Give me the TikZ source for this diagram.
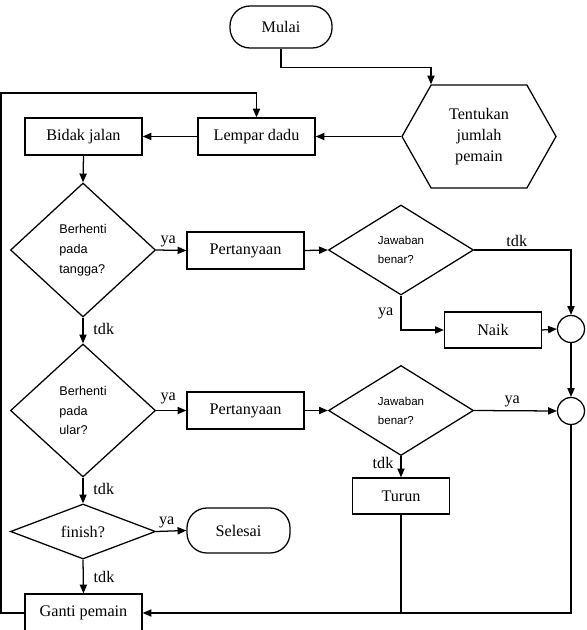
\documentclass[tikz,border=0pt]{standalone}
\usepackage{fontspec}
\setmainfont{Liberation Serif}
\setsansfont{Liberation Sans}
\usetikzlibrary{shapes.geometric,shapes.symbols,arrows.meta}
\tikzset{
  proses/.style={draw, line width=0.9pt, minimum width=2.925cm, minimum height=0.925cm, inner sep=1pt},
  kecil/.style={proses, minimum width=2.425cm, minimum height=0.9cm},
  terminal/.style={draw, line width=0.9pt, rounded corners=0.5cm, minimum width=2.55cm, minimum height=1.05cm},
  keputusan/.style={draw, line width=0.9pt, diamond, inner sep=1pt, minimum width=3.625cm, align=left},
  bulat/.style={draw, line width=0.9pt, circle, minimum size=0.675cm, inner sep=0pt},
  panah/.style={line width=0.9pt, -{Triangle[length=2.2mm,width=1.8mm]}},
  garis/.style={line width=0.9pt},
  ket/.style={inner sep=2pt}
}

\begin{document}
\begin{tikzpicture}[x=0.025cm, y=-0.025cm, font=\fontsize{11.5}{14.9}\selectfont]
\useasboundingbox (0,0) rectangle (586,630);

\node[terminal] (mulai) at (281,27) {Mulai};
\node[draw, line width=0.9pt, signal, signal to=east and west, signal pointer angle=121,
      minimum width=3.85cm, minimum height=2.575cm, inner sep=1pt, align=center] (tentu) at (479,136.5) {Tentukan\\jumlah\\pemain};
\node[proses] (lempar) at (256.5,136.5) {Lempar dadu};
\node[proses] (bidak) at (83.5,136.5) {Bidak jalan};

\node[keputusan, minimum height=3.35cm, font=\sffamily\fontsize{9}{14.2}\selectfont] (tangga) at (83,250) {Berhenti\\pada\\tangga?};
\node[proses] (tanya1) at (245.5,250.5) {Pertanyaan};
\node[keputusan, minimum height=2.25cm, font=\sffamily\fontsize{8.2}{13.5}\selectfont] (jawab1) at (401,250) {Jawaban\\benar?};
\node[kecil] (naik) at (493,330) {Naik};
\node[bulat] (bul1) at (571,329) {};

\node[keputusan, minimum height=3.325cm, font=\sffamily\fontsize{9}{14.2}\selectfont] (ular) at (83,410.5) {Berhenti\\pada\\ular?};
\node[proses] (tanya2) at (245.5,410.5) {Pertanyaan};
\node[keputusan, minimum height=2.25cm, font=\sffamily\fontsize{8.2}{13.5}\selectfont] (jawab2) at (401,410.5) {Jawaban\\benar?};
\node[bulat] (bul2) at (571,411) {};
\node[kecil] (turun) at (401,496) {Turun};

\node[keputusan, minimum height=1.375cm, shape aspect=2.6] (finish) at (83,531.5) {finish?};
\node[terminal, minimum width=2.575cm, minimum height=1.125cm] (selesai) at (238.5,530.5) {Selesai};
\node[proses, minimum height=0.95cm] (ganti) at (83.5,613) {Ganti pemain};
\coordinate (kiri) at (1,93);

\draw[panah] (mulai.south) -- ++(0,19) -| ([xshift=-1.2cm]tentu.north);
\draw[panah] (tentu.west) -- (lempar.east);
\draw[panah] (lempar.west) -- (bidak.east);
\draw[panah] (bidak.south) -- (tangga.north);
\draw[panah] (tangga.east) -- node[ket, above, pos=0.4] {ya} (tanya1.west);
\draw[panah] (tanya1.east) -- (jawab1.west);
\draw[panah] (jawab1.east) -| node[ket, above, pos=0.22] {tdk} (bul1.north);
\draw[panah] (jawab1.south) |- node[ket, left=3pt, pos=0.26] {ya} (naik.west);
\draw[panah] (naik.east) -- (bul1.west);
\draw[panah] (bul1.south) -- (bul2.north);
\draw[panah] (tangga.south) -- node[ket, right=5pt, pos=0.45] {tdk} (ular.north);
\draw[panah] (ular.east) -- node[ket, above=2pt, pos=0.4] {ya} (tanya2.west);
\draw[panah] (tanya2.east) -- (jawab2.west);
\draw[panah] (jawab2.east) -- node[ket, above, pos=0.46] {ya} (bul2.west);
\draw[panah] (jawab2.south) -- node[ket, left=3pt, pos=0.3] {tdk} (turun.north);
\draw[panah] (ular.south) -- node[ket, right=5pt, pos=0.45] {tdk} (finish.north);
\draw[panah] (finish.east) -- node[ket, above, pos=0.35] {ya} (selesai.west);
\draw[panah] (finish.south) -- node[ket, right=5pt, pos=0.5] {tdk} (ganti.north);
\draw[panah] (bul2.south) |- (ganti.east);
\draw[garis] (turun.south) -- (turun.south |- ganti.east);
\draw[panah] (ganti.west) -| (kiri) -| (lempar.north);
\end{tikzpicture}
\end{document}
